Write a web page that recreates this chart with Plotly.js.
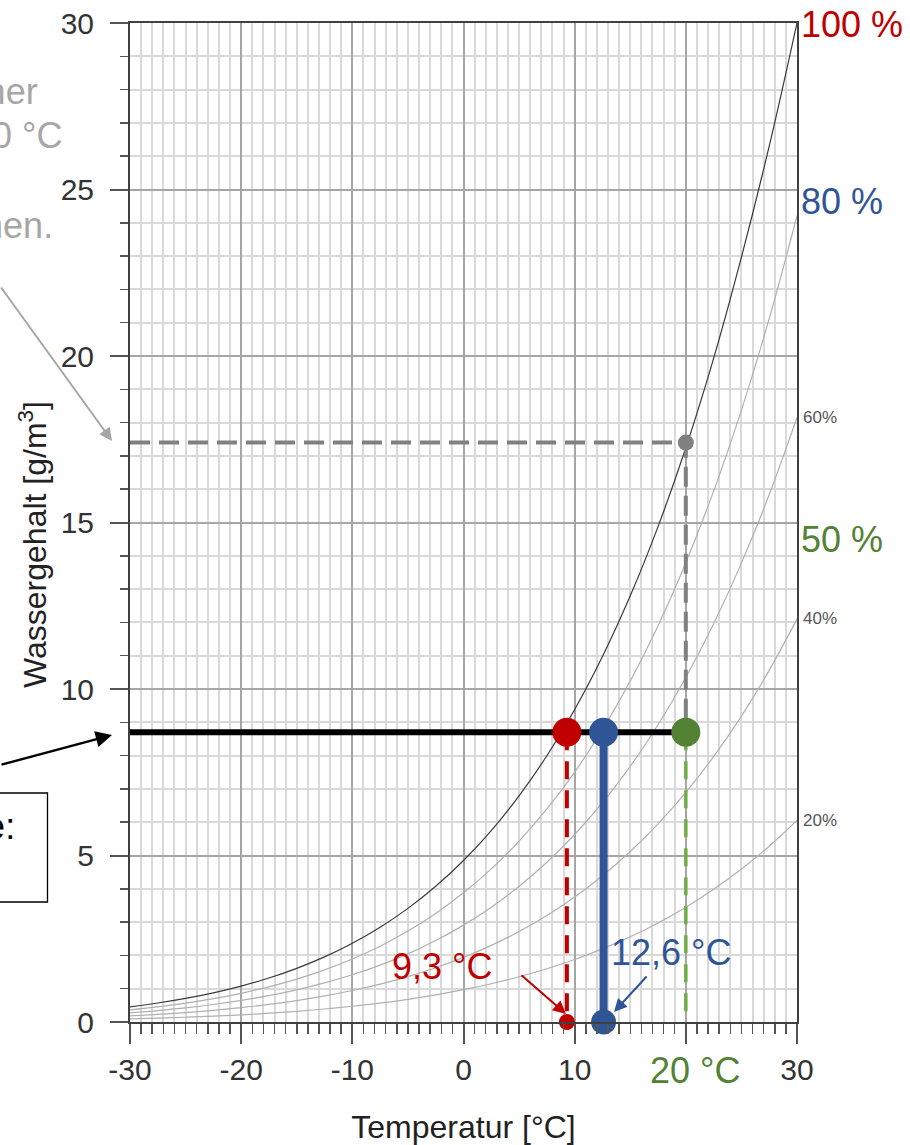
<!DOCTYPE html>
<html>
<head>
<meta charset="utf-8">
<script src="https://cdn.plot.ly/plotly-3.0.1.min.js"></script>
<style>
html,body{margin:0;padding:0;background:#fff;}
#chart{width:910px;height:1145px;}
</style>
</head>
<body>
<div id="chart"></div>
<script>
// ---- data ----
const temps = [-30,-27.5,-25,-22.5,-20,-17.5,-15,-12.5,-10,-7.5,-5,-2.5,0,2.5,5,7.5,10,12.5,15,17.5,20,22.5,25,27.5,30];
const rh100 = [0.456,0.570,0.708,0.876,1.078,1.321,1.611,1.955,2.364,2.845,3.412,4.075,4.849,5.749,6.792,7.996,9.383,10.975,12.797,14.877,17.243,19.928,22.967,26.300,30.0];
const rh80  = [0.365,0.456,0.566,0.701,0.862,1.057,1.289,1.564,1.891,2.276,2.730,3.260,3.879,4.599,5.434,6.397,7.506,8.780,10.238,11.902,13.794,15.942,18.374,21.120,24.211];
const rh60  = [0.274,0.342,0.425,0.526,0.647,0.793,0.967,1.173,1.418,1.707,2.047,2.445,2.909,3.449,4.075,4.798,5.630,6.585,7.678,8.926,10.346,11.957,13.780,15.840,18.158];
const rh40  = [0.182,0.228,0.283,0.350,0.431,0.528,0.644,0.782,0.946,1.138,1.365,1.630,1.940,2.300,2.717,3.198,3.753,4.390,5.119,5.951,6.897,7.971,9.187,10.560,12.106];
const rh20  = [0.091,0.114,0.142,0.175,0.216,0.264,0.322,0.391,0.473,0.569,0.682,0.815,0.970,1.150,1.358,1.599,1.877,2.195,2.559,2.975,3.449,3.986,4.593,5.280,6.053];

const xTickVals = [-30,-20,-10,0,10,20,30];
const xTickText = ['-30','-20','-10','0','10','','30'];
const yTickVals = [0,5,10,15,20,25,30];
const yTickText = ['0','5','10','15','20','25','30'];

const roomTemp = 20;        // °C
const waterContent = 8.7;   // g/m³
const satContent20 = 17.4;  // g/m³ at 20 °C, 100 %
const dew100 = 9.3;         // °C
const dew80 = 12.6;         // °C
const xMin = -30, xMax = 30, yMin = 0, yMax = 30;

const curveLabels = ['60%','40%','20%'];
const curveLabelValues = [rh60[rh60.length-1], rh40[rh40.length-1], rh20[rh20.length-1]];
const bigLabels = ['100 %','80 %','50 %'];
const bigLabelValues = [29.95, 24.65, 14.5];

// ---- layout helpers (page pixels -> paper) ----
const L = 130, R = 113, T = 23, B = 123, W = 910, H = 1145;
const pw = W - L - R, ph = H - T - B;
const px = v => (v - L) / pw;
const py = v => (H - B - v) / ph;

const RED = '#c00000', BLUE = '#2f5597', GREEN = '#548235', LGREEN = '#70ad47', GRAY = '#808080';
const FONT = 'Liberation Sans, Arial, sans-serif';

const traces = [];
function curve(y, color) {
  traces.push({x: temps, y: y, type: 'scatter', mode: 'lines', line: {color: color, width: 1.2, shape: 'spline'}, hoverinfo: 'skip'});
}
curve(rh20, '#b0b0b0');
curve(rh40, '#b0b0b0');
curve(rh60, '#b0b0b0');
curve(rh80, '#b0b0b0');
curve(rh100, '#3a3a3a');

// gray dashed: saturation at 20 °C
traces.push({x: [xMin, roomTemp, roomTemp], y: [satContent20, satContent20, waterContent], mode: 'lines',
  line: {color: GRAY, width: 4, dash: '20px,9px'}, hoverinfo: 'skip'});
// red dashed (dew point)
traces.push({x: [dew100, dew100], y: [waterContent, 0], mode: 'lines', line: {color: RED, width: 4, dash: '18px,11px'}, hoverinfo: 'skip'});
// green dashed (room temp)
traces.push({x: [roomTemp, roomTemp], y: [waterContent, 0], mode: 'lines', line: {color: LGREEN, width: 3.5, dash: '18px,11px'}, hoverinfo: 'skip'});
// black water-content line
traces.push({x: [xMin, roomTemp], y: [waterContent, waterContent], mode: 'lines', line: {color: '#000', width: 6}, hoverinfo: 'skip'});
// blue solid line (80 %)
traces.push({x: [dew80, dew80], y: [waterContent, 0], mode: 'lines', line: {color: BLUE, width: 8}, hoverinfo: 'skip'});
// dots
traces.push({x: [roomTemp], y: [satContent20], mode: 'markers', marker: {color: GRAY, size: 16}, cliponaxis: false, hoverinfo: 'skip'});
traces.push({x: [dew100], y: [0], mode: 'markers', marker: {color: RED, size: 16}, cliponaxis: false, hoverinfo: 'skip'});
traces.push({x: [dew80], y: [0], mode: 'markers', marker: {color: BLUE, size: 25}, cliponaxis: false, hoverinfo: 'skip'});
traces.push({x: [dew100, dew80, roomTemp], y: [waterContent, waterContent, waterContent], mode: 'markers',
  marker: {color: [RED, BLUE, GREEN], size: 29}, cliponaxis: false, hoverinfo: 'skip'});

const annotations = [];
// curve labels
curveLabels.forEach((t, i) => annotations.push({x: xMax, y: curveLabelValues[i], xref: 'x', yref: 'y', text: t, showarrow: false,
  xanchor: 'left', yanchor: 'middle', xshift: 4, font: {family: FONT, size: 17, color: '#555'}}));
const bigColors = [RED, BLUE, GREEN];
bigLabels.forEach((t, i) => annotations.push({x: xMax, y: bigLabelValues[i], xref: 'x', yref: 'y', text: t, showarrow: false,
  xanchor: 'left', yanchor: 'middle', xshift: 2, font: {family: FONT, size: 36, color: bigColors[i]}}));
function txt(t, x, y, xa, size, color, angle) {
  annotations.push({x: px(x), y: py(y), xref: 'paper', yref: 'paper', text: t, showarrow: false,
    xanchor: xa, yanchor: 'middle', textangle: angle || 0, font: {family: FONT, size: size, color: color}});
}
// temperature labels
txt('9,3 °C', 442, 966, 'center', 36, RED);
txt('12,6 °C', 671, 952, 'center', 36, BLUE);
txt('20 °C', 695, 1070, 'center', 36, GREEN);
// y axis title
txt('Wassergehalt [g/m<sup>3</sup>]', 33, 545, 'center', 32, '#222', -90);
// arrows
function arrow(x0, y0, x1, y1, color, w) {
  annotations.push({x: px(x1), y: py(y1), xref: 'paper', yref: 'paper', ax: x0 - x1, ay: y0 - y1, text: '',
    showarrow: true, arrowhead: 2, arrowsize: 1.3, arrowwidth: w, arrowcolor: color, standoff: 0});
}
arrow(520, 974, 566, 1014, RED, 2);
arrow(648, 975, 614, 1012, BLUE, 2);
arrow(-10, 765, 112, 735, '#000', 2.5);
arrow(-8, 286, 112, 441, '#a6a6a6', 2);
// cut-off explanation text on the left
const LGRAY = '#a6a6a6';
txt('Bei Sättigung liegt der Wert höher', 40, 91, 'right', 36, LGRAY);
txt('bei 20 °C', 64, 135, 'right', 36, LGRAY);
txt('ist im Diagramm zu sehen.', 55, 226, 'right', 36, LGRAY);
txt('Messwerte heute:', 17, 826, 'right', 36, '#000');

const shapes = [{type: 'rect', xref: 'paper', yref: 'paper', x0: px(-30), x1: px(47.5), y0: py(902), y1: py(793),
  line: {color: '#000', width: 1.3}, fillcolor: 'rgba(0,0,0,0)'}];

const axisCommon = {
  showline: true, linecolor: '#404040', linewidth: 2, mirror: true,
  ticks: 'outside', tickcolor: '#555', tickwidth: 2, tickmode: 'array',
  showgrid: true, gridcolor: '#a6a6a6', gridwidth: 2, zeroline: false,
  tickfont: {family: FONT, size: 30, color: '#333'}
};

const layout = {
  width: W, height: H,
  margin: {l: L, r: R, t: T, b: B, pad: 0},
  paper_bgcolor: '#fff', plot_bgcolor: '#fff',
  showlegend: false,
  xaxis: Object.assign({}, axisCommon, {
    range: [xMin, xMax], tickvals: xTickVals, ticktext: xTickText, ticklen: 20, ticklabelstandoff: 0,
    minor: {tick0: -30, dtick: 1, ticks: 'outside', ticklen: 10, tickcolor: '#555', tickwidth: 1.5, showgrid: true, gridcolor: '#d9d9d9', gridwidth: 2},
    title: {text: 'Temperatur [°C]', font: {family: FONT, size: 32, color: '#222'}, standoff: 32}
  }),
  yaxis: Object.assign({}, axisCommon, {
    range: [yMin, yMax], tickvals: yTickVals, ticktext: yTickText, ticklen: 18, ticklabelstandoff: 10,
    minor: {tick0: 0, dtick: 1, ticks: 'outside', ticklen: 8, tickcolor: '#555', tickwidth: 1.5, showgrid: true, gridcolor: '#d9d9d9', gridwidth: 2}
  }),
  annotations: annotations,
  shapes: shapes
};

Plotly.newPlot('chart', traces, layout, {displayModeBar: false, staticPlot: true});
</script>
</body>
</html>
